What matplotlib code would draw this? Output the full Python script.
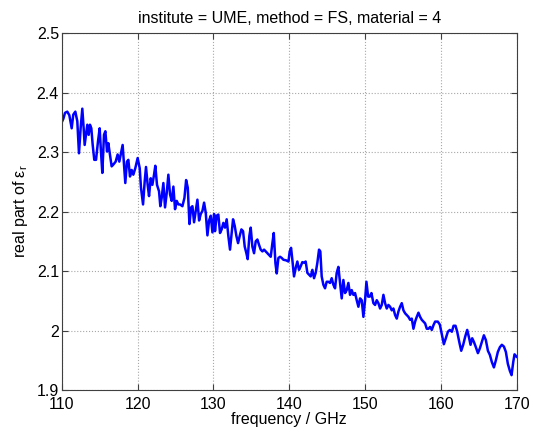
import matplotlib

matplotlib.use("Agg")
import matplotlib.pyplot as plt
from matplotlib.ticker import FormatStrFormatter

plt.rcParams["font.family"] = ["Liberation Sans", "DejaVu Sans"]

# 110-170 GHz
freq_ghz = [
    110.00, 110.22, 110.44, 110.74, 111.01, 111.32, 111.53, 111.80, 112.06, 112.28,
    112.50, 112.72, 112.90, 113.03, 113.21, 113.38, 113.56, 113.73, 113.91, 114.09,
    114.30, 114.53, 114.79, 115.01, 115.18, 115.36, 115.58, 115.76, 115.98, 116.15,
    116.37, 116.59, 116.81, 117.12, 117.38, 117.60, 117.82, 118.04, 118.22, 118.39,
    118.61, 118.79, 119.01, 119.23, 119.45, 119.71, 120.02, 120.29, 120.46, 120.73,
    120.95, 121.12, 121.34, 121.52, 121.74, 121.96, 122.18, 122.35, 122.57, 122.84,
    123.01, 123.19, 123.41, 123.63, 123.85, 124.07, 124.29, 124.51, 124.73, 124.95,
    125.17, 125.39, 125.61, 125.92, 126.19, 126.41, 126.63, 126.85, 127.07, 127.24,
    127.46, 127.68, 127.90, 128.12, 128.34, 128.56, 128.78, 129.00, 129.22, 129.44,
    129.66, 129.88, 130.10, 130.22, 130.44, 130.66, 130.88, 131.10, 131.32, 131.54,
    131.76, 131.98, 132.20, 132.42, 132.60, 132.82, 133.04, 133.26, 133.48, 133.70,
    133.92, 134.14, 134.36, 134.53, 134.75, 134.93, 135.15, 135.37, 135.59, 135.81,
    136.03, 136.25, 136.47, 136.69, 136.91, 137.13, 137.35, 137.57, 137.79, 137.97,
    138.19, 138.36, 138.58, 138.80, 139.02, 139.24, 139.60, 139.91, 140.07, 140.25,
    140.42, 140.64, 140.86, 141.08, 141.30, 141.52, 141.74, 141.96, 142.18, 142.40,
    142.62, 142.84, 143.06, 143.28, 143.50, 143.72, 143.94, 144.11, 144.29, 144.51,
    144.73, 144.95, 145.17, 145.39, 145.61, 145.83, 146.05, 146.27, 146.49, 146.71,
    146.93, 147.15, 147.37, 147.59, 147.81, 148.03, 148.25, 148.47, 148.69, 148.91,
    149.13, 149.35, 149.57, 149.79, 150.01, 150.19, 150.41, 150.63, 150.85, 151.11,
    151.33, 151.55, 151.77, 151.99, 152.21, 152.43, 152.65, 152.87, 153.09, 153.31,
    153.53, 153.75, 153.97, 154.19, 154.41, 154.63, 154.85, 155.07, 155.29, 155.51,
    155.73, 155.95, 156.17, 156.39, 156.61, 156.83, 157.05, 157.27, 157.49, 157.71,
    157.93, 158.15, 158.37, 158.59, 158.81, 159.03, 159.25, 159.60, 159.87, 160.14,
    160.40, 160.66, 160.93, 161.19, 161.46, 161.68, 161.94, 162.16, 162.43, 162.69,
    162.95, 163.22, 163.48, 163.74, 163.92, 164.14, 164.36, 164.62, 164.89, 165.15,
    165.42, 165.68, 165.94, 166.21, 166.47, 166.73, 167.00, 167.26, 167.52, 167.79,
    168.05, 168.32, 168.58, 168.84, 169.11, 169.33, 169.55, 169.72, 169.99,
]
eps_real = [
    2.350, 2.356, 2.366, 2.368, 2.362, 2.340, 2.363, 2.368, 2.352, 2.298,
    2.340, 2.373, 2.340, 2.312, 2.329, 2.346, 2.329, 2.346, 2.340, 2.312,
    2.287, 2.287, 2.318, 2.340, 2.301, 2.265, 2.329, 2.335, 2.301, 2.315,
    2.296, 2.276, 2.279, 2.284, 2.296, 2.284, 2.298, 2.312, 2.279, 2.248,
    2.284, 2.287, 2.259, 2.270, 2.262, 2.273, 2.290, 2.273, 2.240, 2.212,
    2.251, 2.275, 2.245, 2.226, 2.256, 2.245, 2.262, 2.277, 2.245, 2.234,
    2.209, 2.223, 2.248, 2.207, 2.231, 2.262, 2.229, 2.218, 2.242, 2.204,
    2.218, 2.212, 2.212, 2.209, 2.223, 2.253, 2.240, 2.179, 2.207, 2.209,
    2.182, 2.201, 2.220, 2.185, 2.196, 2.201, 2.215, 2.198, 2.160, 2.185,
    2.193, 2.165, 2.196, 2.167, 2.193, 2.195, 2.164, 2.170, 2.181, 2.173,
    2.187, 2.159, 2.136, 2.164, 2.187, 2.176, 2.159, 2.147, 2.159, 2.170,
    2.167, 2.141, 2.130, 2.120, 2.159, 2.173, 2.141, 2.130, 2.150, 2.153,
    2.144, 2.136, 2.133, 2.136, 2.133, 2.130, 2.127, 2.124, 2.147, 2.164,
    2.113, 2.096, 2.122, 2.124, 2.122, 2.119, 2.118, 2.116, 2.133, 2.139,
    2.119, 2.091, 2.105, 2.116, 2.102, 2.108, 2.115, 2.114, 2.116, 2.097,
    2.094, 2.091, 2.102, 2.088, 2.097, 2.114, 2.136, 2.133, 2.091, 2.077,
    2.071, 2.082, 2.082, 2.080, 2.088, 2.077, 2.071, 2.097, 2.107, 2.080,
    2.054, 2.085, 2.063, 2.068, 2.080, 2.060, 2.068, 2.060, 2.063, 2.051,
    2.040, 2.054, 2.051, 2.023, 2.051, 2.082, 2.057, 2.057, 2.063, 2.046,
    2.043, 2.051, 2.046, 2.037, 2.043, 2.060, 2.046, 2.037, 2.043, 2.040,
    2.034, 2.037, 2.026, 2.020, 2.032, 2.040, 2.046, 2.034, 2.029, 2.026,
    2.023, 2.018, 2.020, 2.003, 2.015, 2.023, 2.030, 2.023, 2.018, 2.015,
    2.012, 2.003, 2.003, 2.006, 2.001, 2.009, 2.015, 2.015, 2.010, 1.993,
    1.977, 1.987, 1.998, 2.001, 1.998, 2.008, 2.008, 1.998, 1.981, 1.966,
    1.976, 1.990, 2.001, 1.987, 1.976, 1.987, 1.981, 1.972, 1.962, 1.970,
    1.981, 1.992, 1.984, 1.966, 1.959, 1.947, 1.938, 1.950, 1.964, 1.972,
    1.976, 1.973, 1.964, 1.944, 1.932, 1.925, 1.947, 1.960, 1.956,
]

x_ticks = [110, 120, 130, 140, 150, 160, 170]
y_ticks = [1.9, 2.0, 2.1, 2.2, 2.3, 2.4, 2.5]

fig = plt.figure(figsize=(5.34, 4.36), dpi=100)
ax = fig.add_axes([0.1155, 0.1055, 0.852, 0.8185])
ax.plot(freq_ghz, eps_real, color="#0000FF", lw=1.8)

ax.set_xlim(110, 170)
ax.set_ylim(1.9, 2.5)
ax.set_xticks(x_ticks)
ax.set_yticks(y_ticks)
ax.yaxis.set_major_formatter(FormatStrFormatter("%g"))
ax.grid(True, ls=":", color="#A8A8A8", lw=0.8)
ax.tick_params(direction="in", top=True, right=True, labelsize=11.5, length=4,
               color="#404040")
ax.tick_params(axis="x", pad=5)
ax.tick_params(axis="y", pad=2)
for s in ax.spines.values():
    s.set_color("#404040")
    s.set_linewidth(0.8)

ax.set_xlabel("frequency / GHz", fontsize=11.5, labelpad=0)
ax.set_ylabel("real part of ε$_\\mathregular{r}$", fontsize=11.5, labelpad=5)
ax.set_title("institute = UME, method = FS, material = 4", fontsize=11.5, pad=7)

fig.savefig("out.png", dpi=100, facecolor="white")
